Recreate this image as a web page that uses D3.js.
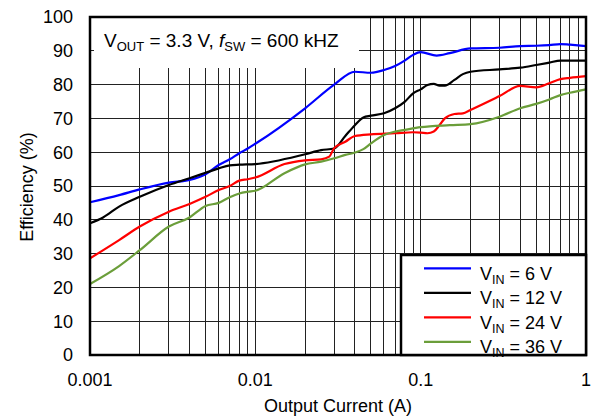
<!DOCTYPE html>
<html><head><meta charset="utf-8">
<script src="https://cdn.jsdelivr.net/npm/d3@7"></script>
<style>body{margin:0;background:#fff}svg{display:block}text{font-family:"Liberation Sans",Arial,sans-serif;fill:#000}</style>
</head><body><svg id="c" width="592" height="417"></svg>
<script>
const currents6 = [0.001,0.0015,0.002,0.003,0.004,0.005,0.006,0.007,0.008,0.009,0.01,0.02,0.03,0.04,0.05,0.06,0.07,0.08,0.09,0.1,0.125,0.15,0.2,0.3,0.4,0.5,0.6,0.7,0.8,1];
const eff6 = [45.2,47.3,49,51,51.8,53.5,56.2,57.9,59.7,61.1,62.5,73,80,83.8,83.5,84.3,85.5,87.1,88.8,89.6,88.6,89.3,90.7,90.9,91.4,91.5,91.7,92,91.8,91.4];
const currents12 = [0.001,0.0012,0.0015,0.002,0.003,0.004,0.005,0.006,0.007,0.008,0.01,0.02,0.025,0.03,0.035,0.04,0.045,0.05,0.06,0.07,0.08,0.09,0.1,0.11,0.12,0.13,0.14,0.16,0.18,0.2,0.3,0.4,0.5,0.6,0.7,0.8,1];
const eff12 = [39,40.7,43.9,46.8,50.3,52.3,53.9,55.2,56.1,56.3,56.5,59.4,60.6,61.1,64.8,68,70.3,70.8,71.5,73,74.9,77.4,78.6,79.9,80.2,79.7,79.7,81.4,83.1,83.8,84.5,85,85.8,86.5,87.1,87.1,87.1];
const currents24 = [0.001,0.0015,0.002,0.003,0.004,0.005,0.006,0.007,0.008,0.009,0.01,0.015,0.02,0.025,0.028,0.03,0.035,0.04,0.05,0.07,0.09,0.1,0.11,0.12,0.13,0.14,0.16,0.18,0.2,0.3,0.4,0.5,0.6,0.7,0.8,1];
const eff24 = [28.6,34,38,42.4,44.7,46.8,48.8,50,51.6,52,52.5,56.5,57.6,57.9,58.7,61.2,63.1,64.8,65.3,65.6,65.9,65.8,65.6,66.1,68,70,71.3,71.5,72.5,76.6,79.6,79.2,80.4,81.6,82,82.5];
const currents36 = [0.001,0.0015,0.002,0.003,0.004,0.005,0.006,0.007,0.008,0.009,0.01,0.015,0.02,0.025,0.03,0.035,0.04,0.045,0.05,0.06,0.07,0.08,0.1,0.15,0.2,0.3,0.4,0.5,0.6,0.7,0.8,1];
const eff36 = [21,26.3,31,38,40.7,44.1,45,46.7,47.8,48.3,48.6,53.8,56.4,57.2,58.2,59.2,59.9,60.9,62.6,65.1,66.1,66.6,67.4,68,68.3,70.5,73,74.3,75.6,76.9,77.6,78.6];
const seriesNames = ["6 V","12 V","24 V","36 V"];
const seriesColors = ["#0000ff","#000000","#ff0000","#6b9e3a"];
const yTicks = [0,10,20,30,40,50,60,70,80,90,100];
const xTickValues = [0.001,0.01,0.1,1];
const xTickLabels = ["0.001","0.01","0.1","1"];

const series = [
  {x:currents6,y:eff6},{x:currents12,y:eff12},{x:currents24,y:eff24},{x:currents36,y:eff36}
];

const svg = d3.select("#c");
const L=90,R=586,T=17,B=355;
const x = d3.scaleLog().domain([0.001,1]).range([L,R]);
const y = d3.scaleLinear().domain([0,100]).range([B,T]);

// grid
const minor=[];
[0.001,0.01,0.1].forEach(d=>{for(let k=1;k<10;k++)minor.push(d*k);});
const g = svg.append("g");
g.selectAll("line.v").data(minor.filter(v=>v>0.001)).join("line")
 .attr("x1",d=>x(d)).attr("x2",d=>x(d)).attr("y1",T).attr("y2",B)
 .attr("stroke","#222").attr("stroke-width",1).attr("shape-rendering","crispEdges");
g.selectAll("line.h").data(yTicks.filter(v=>v>0&&v<100)).join("line")
 .attr("x1",L).attr("x2",R).attr("y1",d=>y(d)).attr("y2",d=>y(d))
 .attr("stroke","#222").attr("stroke-width",1).attr("shape-rendering","crispEdges");

// title box
svg.append("rect").attr("x",94).attr("y",T+1).attr("width",265).attr("height",50).attr("fill","#fff");
const tt = svg.append("text").attr("x",104).attr("y",46.5).attr("font-size",19);
tt.append("tspan").text("V");
tt.append("tspan").attr("font-size",13).attr("dy",4).text("OUT");
tt.append("tspan").attr("dy",-4).text(" = 3.3 V, ");
tt.append("tspan").attr("font-style","italic").text("f");
tt.append("tspan").attr("font-size",13).attr("dy",4).text("SW");
tt.append("tspan").attr("dy",-4).text(" = 600 kHZ");

// curves
const line = d3.line().x(d=>x(d[0])).y(d=>y(d[1])).curve(d3.curveMonotoneX);
series.forEach((s,i)=>{
  svg.append("path").datum(s.x.map((v,j)=>[v,s.y[j]]))
   .attr("d",line).attr("fill","none").attr("stroke",seriesColors[i]).attr("stroke-width",2.2);
});

// frame
svg.append("rect").attr("x",L).attr("y",T).attr("width",R-L).attr("height",B-T)
 .attr("fill","none").attr("stroke","#000").attr("stroke-width",2.5);

// axes labels
svg.selectAll("text.yt").data(yTicks).join("text").attr("class","yt")
 .attr("x",73).attr("y",d=>y(d)).attr("dy","0.36em").attr("text-anchor","end").attr("font-size",18)
 .text(d=>d);
svg.selectAll("text.xt").data(xTickValues).join("text").attr("class","xt")
 .attr("x",d=>x(d)).attr("y",386).attr("text-anchor","middle").attr("font-size",18)
 .text((d,i)=>xTickLabels[i]);
svg.append("text").attr("x",338).attr("y",412).attr("text-anchor","middle").attr("font-size",18).text("Output Current (A)");
svg.append("text").attr("transform","translate(33,187) rotate(-90)").attr("text-anchor","middle").attr("font-size",18).text("Efficiency (%)");

// legend
svg.append("rect").attr("x",401).attr("y",255).attr("width",185).attr("height",100)
 .attr("fill","#fff").attr("stroke","#000").attr("stroke-width",2.5);
seriesNames.forEach((n,i)=>{
  const yy = 268.3 + i*24.5;
  svg.append("line").attr("x1",424).attr("x2",471).attr("y1",yy).attr("y2",yy)
   .attr("stroke",seriesColors[i]).attr("stroke-width",2.2);
  const t = svg.append("text").attr("x",480).attr("y",yy+11.5).attr("font-size",18);
  t.append("tspan").text("V");
  t.append("tspan").attr("font-size",12.5).attr("dy",4).text("IN");
  t.append("tspan").attr("dy",-4).text(" = "+n);
});
</script></body></html>
